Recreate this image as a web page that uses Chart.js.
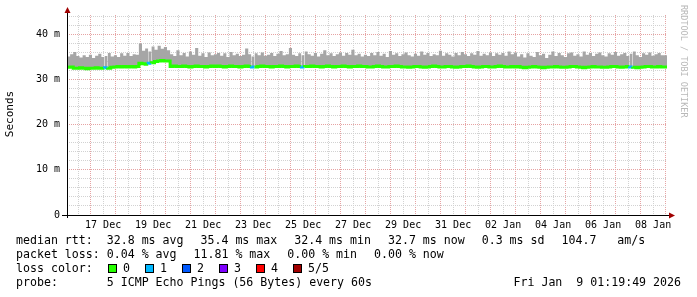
<!DOCTYPE html>
<html>
<head>
<meta charset="utf-8">
<script src="https://cdn.jsdelivr.net/npm/chart.js@4.4.1/dist/chart.umd.min.js"></script>
<style>
  html, body { margin: 0; padding: 0; background: #fff; }
  canvas { display: block; }
</style>
</head>
<body>
<canvas id="grafica" width="697" height="297"></canvas>
<script>
// x axis is hours since 16 Dec 00:00; first sample 16 Dec 01:19, one every 3 h
const inicio = 1.33;
const paso = 3;
const fin = 577.33;

// median rtt per sample (ms)
const mediana = [
  32.8, 32.7, 32.8, 32.5, 32.5, 32.6, 32.5, 32.4, 32.5, 32.5, 32.6, 32.5,
  32.5, 32.6, 32.5, 32.7, 32.8, 32.9, 32.8, 32.9, 32.8, 32.9, 32.8, 32.9,
  33.6, 33.5, 33.4, 33.6, 33.7, 34.0, 34.1, 34.2, 34.1, 34.1, 32.9, 33.0,
  32.9, 32.9, 33.0, 32.9, 32.8, 32.9, 33.0, 32.9, 32.9, 32.8, 32.9, 33.0,
  32.9, 33.0, 32.9, 32.8, 32.9, 33.0, 32.9, 32.9, 32.8, 32.9, 33.0, 32.9,
  32.8, 32.8, 32.9, 33.0, 32.9, 32.9, 32.8, 32.9, 32.9, 33.0, 32.9, 32.8,
  32.9, 32.9, 33.0, 32.9, 32.8, 32.9, 32.9, 33.0, 32.9, 32.9, 32.8, 32.9,
  33.0, 32.9, 32.8, 32.9, 32.9, 33.0, 32.9, 32.8, 32.9, 32.9, 33.0, 32.9,
  32.9, 32.8, 32.8, 32.9, 33.0, 32.9, 32.8, 32.8, 32.9, 32.9, 33.0, 32.9,
  32.8, 32.8, 32.7, 32.8, 32.9, 32.9, 32.8, 32.7, 32.8, 32.9, 33.0, 32.9,
  32.8, 32.8, 32.9, 32.9, 32.8, 32.7, 32.8, 32.9, 32.9, 33.0, 32.9, 32.8,
  32.7, 32.8, 32.9, 32.9, 32.8, 32.8, 32.9, 33.0, 32.9, 32.8, 32.8, 32.9,
  32.8, 32.9, 32.7, 32.6, 32.7, 32.8, 32.9, 32.8, 32.7, 32.6, 32.7, 32.8,
  32.8, 32.9, 32.8, 32.7, 32.7, 32.8, 32.9, 32.9, 32.8, 32.7, 32.6, 32.7,
  32.8, 32.9, 32.8, 32.8, 32.7, 32.7, 32.8, 32.9, 32.9, 32.8, 32.7, 32.8,
  32.9, 32.8, 32.7, 32.6, 32.7, 32.8, 32.9, 32.9, 32.8, 32.8, 32.9, 32.8
];

// top of the smoke (slowest ping) per sample (ms)
const humoMax = [
  35.3, 35.1, 35.6, 36.1, 35.2, 34.9, 35.4, 35.0, 35.5, 34.8, 35.3, 35.7,
  35.0, 35.2, 35.9, 35.1, 35.4, 35.0, 35.8, 35.3, 35.9, 35.2, 35.6, 35.5,
  38.0, 36.4, 36.9, 36.2, 37.3, 36.6, 37.5, 36.8, 37.2, 36.5, 35.6, 35.2,
  36.5, 35.4, 35.9, 35.1, 36.2, 35.5, 37.0, 35.3, 35.8, 35.0, 36.0, 35.4,
  35.6, 35.9, 35.3, 35.8, 35.0, 36.1, 35.4, 35.7, 35.2, 35.5, 36.9, 35.6,
  35.1, 35.8, 35.4, 36.0, 35.3, 35.5, 35.9, 35.2, 35.7, 36.3, 35.4, 35.6,
  37.0, 35.5, 35.2, 35.8, 35.4, 36.2, 35.6, 35.3, 35.9, 35.1, 35.7, 36.5,
  35.4, 35.8, 35.2, 35.6, 36.0, 35.3, 35.9, 35.5, 36.6, 35.4, 35.7, 35.1,
  35.5, 35.2, 35.9, 35.4, 36.1, 35.3, 35.7, 35.0, 36.3, 35.5, 35.8, 35.2,
  35.6, 36.0, 35.4, 35.1, 35.7, 35.3, 36.2, 35.5, 35.9, 35.2, 35.6, 35.4,
  36.4, 35.3, 35.8, 35.5, 35.1, 35.9, 35.4, 36.1, 35.6, 35.2, 35.8, 35.5,
  36.3, 35.3, 35.7, 35.4, 36.0, 35.2, 35.8, 35.5, 35.9, 35.3, 36.2, 35.6,
  36.0, 35.1, 35.6, 34.9, 35.8, 35.3, 35.0, 36.1, 35.4, 35.7, 34.8, 35.5,
  36.2, 35.2, 35.9, 35.4, 35.0, 35.8, 36.0, 35.3, 35.6, 35.1, 36.2, 35.5,
  35.9, 35.2, 35.7, 36.0, 35.4, 35.1, 35.8, 35.5, 36.1, 35.3, 35.6, 35.9,
  35.2, 35.7, 36.2, 35.4, 35.0, 35.8, 35.5, 36.0, 35.3, 35.6, 35.9, 35.4
];

// samples with lost pings (index, pings lost out of 5)
const perdidaIdx = [12, 26, 59, 75, 180];
const perdidaVal = [1, 1, 1, 1, 1];

// tick labels
const etiquetasX = ['17 Dec', '19 Dec', '21 Dec', '23 Dec', '25 Dec', '27 Dec',
                    '29 Dec', '31 Dec', '02 Jan', '04 Jan', '06 Jan', '08 Jan'];
const primeraEtiqueta = 36; // 17 Dec 12:00

// legend
const coloresPerdida = ['#26ff00', '#00b8ff', '#0059ff', '#7e00ff', '#ff0000', '#a10000'];
const nombresPerdida = ['0', '1', '2', '3', '4', '5/5'];
const itemsRtt = ['median rtt:  32.8 ms avg', '35.4 ms max', '32.4 ms min', '32.7 ms now', '0.3 ms sd', '104.7   am/s'];
const itemsPerdida = ['packet loss: 0.04 % avg', '11.81 % max', '0.00 % min', '0.00 % now'];
const lineaSonda = 'probe:       5 ICMP Echo Pings (56 Bytes) every 60s';
const fechaTexto = 'Fri Jan  9 01:19:49 2026';

const perdida = Array(mediana.length).fill(0);
perdidaIdx.forEach((i, k) => perdida[i] = perdidaVal[k]);

const puntos = arr => {
    const d = arr.map((v, i) => ({ x: inicio + i * paso, y: v }));
    d.push({ x: fin, y: arr[arr.length - 1] });
    return d;
};

const mono = 'DejaVu Sans Mono';

// rrdtool leaves a little extra room between legend items
const dibujaItems = (ctx, items, y) => {
    let x = 16;
    items.forEach(t => {
        ctx.fillText(t, x, y);
        x += ctx.measureText(t + '  ').width + 3;
    });
};

const extras = {
    id: 'extras',
    beforeDraw(chart) {
        const ctx = chart.ctx;
        ctx.save();
        ctx.fillStyle = '#fff';
        ctx.fillRect(0, 0, chart.width, chart.height);
        ctx.restore();
    },
    afterDraw(chart) {
        const ctx = chart.ctx;
        const a = chart.chartArea;
        ctx.save();

        // axes
        ctx.strokeStyle = '#000';
        ctx.lineWidth = 1;
        ctx.beginPath();
        ctx.moveTo(62, a.bottom + 0.5);
        ctx.lineTo(a.right + 3, a.bottom + 0.5);
        ctx.moveTo(a.left + 0.5, a.bottom + 3);
        ctx.lineTo(a.left + 0.5, a.top - 3);
        ctx.stroke();
        ctx.fillStyle = '#a00000';
        ctx.beginPath();
        ctx.moveTo(a.left + 0.5, a.top - 8);
        ctx.lineTo(a.left - 2.5, a.top - 2);
        ctx.lineTo(a.left + 3.5, a.top - 2);
        ctx.fill();
        ctx.beginPath();
        ctx.moveTo(a.right + 8, a.bottom + 0.5);
        ctx.lineTo(a.right + 2, a.bottom - 2.5);
        ctx.lineTo(a.right + 2, a.bottom + 3.5);
        ctx.fill();

        // y title
        ctx.fillStyle = '#000';
        ctx.font = '11px ' + mono;
        ctx.textAlign = 'center';
        ctx.textBaseline = 'middle';
        ctx.save();
        ctx.translate(10, 114);
        ctx.rotate(-Math.PI / 2);
        ctx.fillText('Seconds', 0, 0);
        ctx.restore();

        // watermark
        ctx.save();
        ctx.fillStyle = '#b8b8b8';
        ctx.font = '8.5px ' + mono;
        ctx.textAlign = 'left';
        ctx.translate(683, 5);
        ctx.rotate(Math.PI / 2);
        ctx.fillText('RRDTOOL / TOBI OETIKER', 0, 0);
        ctx.restore();

        // legend
        ctx.font = '11.6px ' + mono;
        ctx.textAlign = 'left';
        ctx.fillStyle = '#000';
        dibujaItems(ctx, itemsRtt, 241);
        dibujaItems(ctx, itemsPerdida, 255);
        ctx.fillText('loss color:', 16, 269);
        nombresPerdida.forEach((t, i) => {
            const bx = 108 + i * 37;
            ctx.fillStyle = coloresPerdida[i];
            ctx.fillRect(bx, 264, 9, 9);
            ctx.strokeStyle = '#000';
            ctx.strokeRect(bx + 0.5, 264.5, 8, 8);
            ctx.fillStyle = '#000';
            ctx.fillText(t, bx + 15, 269);
        });
        ctx.fillText(lineaSonda, 16, 283);
        ctx.textAlign = 'right';
        ctx.fillText(fechaTexto, 681, 283);

        ctx.restore();
    }
};

new Chart(document.getElementById('grafica'), {
    type: 'line',
    data: {
        datasets: [{
            label: 'median rtt',
            data: puntos(mediana),
            stepped: 'after',
            borderColor: coloresPerdida[0],
            borderWidth: 3,
            pointRadius: 0,
            fill: false,
            order: 0,
            segment: {
                borderColor: c => coloresPerdida[perdida[c.p0DataIndex] || 0]
            }
        }, {
            label: 'smoke',
            data: puntos(humoMax),
            stepped: 'after',
            borderWidth: 0,
            borderColor: 'rgba(0,0,0,0)',
            backgroundColor: '#a6a6a6',
            pointRadius: 0,
            fill: '-1',
            order: 1
        }]
    },
    options: {
        responsive: false,
        animation: false,
        layout: { padding: { left: 0, top: 15, right: 30, bottom: 62 } },
        plugins: { legend: { display: false }, tooltip: { enabled: false } },
        scales: {
            x: {
                type: 'linear',
                min: inicio,
                max: fin,
                afterFit: s => { s.height = 20; },
                afterBuildTicks: s => {
                    const t = [];
                    for (let h = 12; h <= 576; h += 12) t.push({ value: h });
                    s.ticks = t;
                },
                grid: {
                    drawTicks: false,
                    color: c => (c.tick && c.tick.value % 24 === 0) ? '#e6a3a3' : '#d2d2d2'
                },
                border: { display: false, dash: [1, 1] },
                ticks: {
                    autoSkip: false,
                    maxRotation: 0,
                    padding: 4,
                    color: '#000',
                    font: { family: mono, size: 10 },
                    callback: v => {
                        const k = (v - primeraEtiqueta) / 48;
                        return Number.isInteger(k) && k >= 0 ? etiquetasX[k] : '';
                    }
                }
            },
            y: {
                min: 0,
                max: 44.3,
                afterFit: s => { s.width = 67; },
                afterBuildTicks: s => {
                    const t = [];
                    for (let v = 0; v <= 44; v += 2) t.push({ value: v });
                    s.ticks = t;
                },
                grid: {
                    drawTicks: false,
                    color: c => (c.tick && c.tick.value % 10 === 0) ? '#e6a3a3' : '#d2d2d2'
                },
                border: { display: false, dash: [1, 1] },
                ticks: {
                    autoSkip: false,
                    padding: 7,
                    color: '#000',
                    font: { family: mono, size: 10 },
                    callback: v => v % 10 === 0 ? (v === 0 ? '0' : v + ' m') : ''
                }
            }
        }
    },
    plugins: [extras]
});
</script>
</body>
</html>
